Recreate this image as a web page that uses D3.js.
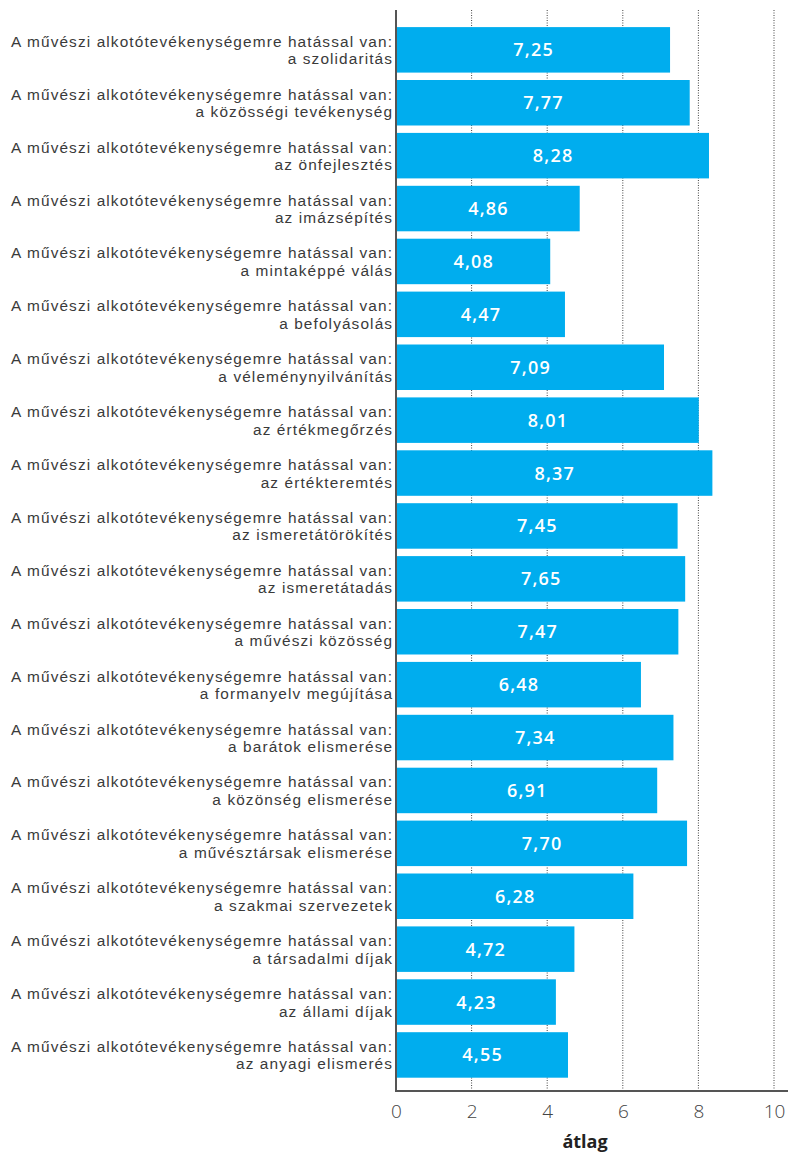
<!DOCTYPE html>
<html><head><meta charset="utf-8">
<script src="https://cdn.jsdelivr.net/npm/d3@7"></script>
<style>
html,body{margin:0;padding:0;background:#fff;}
svg{display:block;}
</style></head>
<body>
<script>
const prefix = "A művészi alkotótevékenységemre hatással van:";
const categories = ["a szolidaritás","a közösségi tevékenység","az önfejlesztés","az imázsépítés","a mintaképpé válás","a befolyásolás","a véleménynyilvánítás","az értékmegőrzés","az értékteremtés","az ismeretátörökítés","az ismeretátadás","a művészi közösség","a formanyelv megújítása","a barátok elismerése","a közönség elismerése","a művésztársak elismerése","a szakmai szervezetek","a társadalmi díjak","az állami díjak","az anyagi elismerés"];
const values = [7.25,7.77,8.28,4.86,4.08,4.47,7.09,8.01,8.37,7.45,7.65,7.47,6.48,7.34,6.91,7.70,6.28,4.72,4.23,4.55];
const xTicks = [0,2,4,6,8,10];
const xTitle = "átlag";

const W = 788, H = 1154;
const svg = d3.select("body").append("svg").attr("width", W).attr("height", H);
const x = d3.scaleLinear().domain([0,10]).range([396, 774]);
const y = d3.scaleBand().domain(d3.range(categories.length)).range([23.4, 1081.4]).paddingInner(0.14).paddingOuter(0.07);
const plotTop = 10, plotBottom = 1091;
const font = "'Open Sans', 'Noto Sans', sans-serif";
const labFont = "'Liberation Sans', Arial, sans-serif";

// gridlines
svg.append("g").selectAll("line").data(xTicks.filter(d => d > 0)).join("line")
  .attr("x1", d => x(d)).attr("x2", d => x(d))
  .attr("y1", plotTop).attr("y2", plotBottom)
  .attr("stroke", "#444").attr("stroke-width", 1).attr("stroke-dasharray", "1,1.5");

// bars
svg.append("g").selectAll("rect").data(values).join("rect")
  .attr("x", x(0)).attr("y", (d,i) => y(i))
  .attr("width", d => x(d) - x(0)).attr("height", y.bandwidth())
  .attr("fill", "#00ADEE");

// value labels
svg.append("g").selectAll("text").data(values).join("text")
  .attr("x", d => (x(0) + x(d)) / 2 + 0.6)
  .attr("y", (d,i) => y(i) + y.bandwidth()/2 + 6.5)
  .attr("text-anchor", "middle")
  .attr("fill", "#fff").attr("font-family", font).attr("font-weight", 600).attr("font-size", 18)
  .attr("letter-spacing", 1.2)
  .text(d => d3.format(".2f")(d).replace(".", ","));

// category labels
const lab = svg.append("g").selectAll("text").data(categories).join("text")
  .attr("text-anchor", "end")
  .attr("fill", "#3a3a3a").attr("font-family", labFont).attr("font-size", 15.4);
lab.append("tspan").attr("x", 392).attr("y", (d,i) => y(i) + y.bandwidth()/2 - 3).text(prefix);
lab.append("tspan").attr("x", 392).attr("y", (d,i) => y(i) + y.bandwidth()/2 + 14.5).text(d => d);
// spread letters so the first line spans the reference width (~382px)
const w0 = lab.node().firstChild.getComputedTextLength();
if (w0 > 0) lab.attr("letter-spacing", Math.max(0, (382 - w0) / prefix.length));
lab.selectAll("tspan").attr("x", 392 + +lab.attr("letter-spacing"));

// axes
const xAxis = d3.axisBottom(x).tickValues(xTicks).tickSize(0).tickPadding(14).tickFormat(d3.format("d"));
const gx = svg.append("g").attr("transform", `translate(0,${plotBottom})`).call(xAxis);
gx.select(".domain").remove();
gx.selectAll("text").attr("font-family", font).attr("font-weight", 300).attr("font-size", 19).attr("fill", "#444");

svg.append("line").attr("x1", x(0)).attr("x2", 788).attr("y1", plotBottom).attr("y2", plotBottom)
  .attr("stroke", "#555").attr("stroke-width", 2);
svg.append("line").attr("x1", x(0)).attr("x2", x(0)).attr("y1", plotTop).attr("y2", plotBottom + 1)
  .attr("stroke", "#555").attr("stroke-width", 2);

svg.append("text").attr("x", 585).attr("y", 1148).attr("text-anchor", "middle")
  .attr("font-family", font).attr("font-weight", 700).attr("font-size", 18).attr("fill", "#222")
  .text(xTitle);
</script>
</body></html>
